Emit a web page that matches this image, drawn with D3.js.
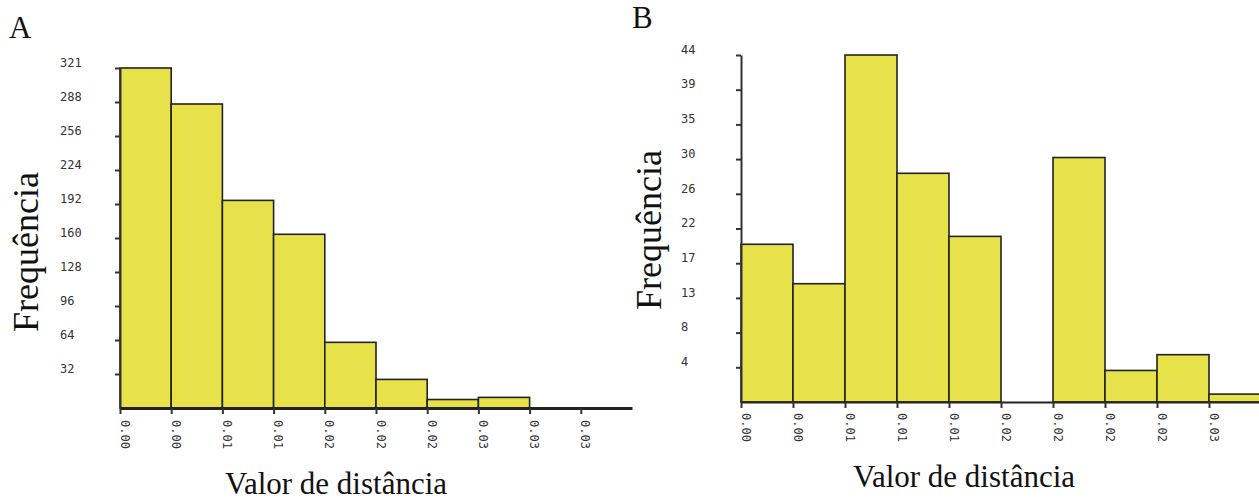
<!DOCTYPE html>
<html>
  <head>
    <meta charset="utf-8">
    <title>Frequência x Valor de distância</title>
    <script type="text/javascript" src="https://cdnjs.cloudflare.com/ajax/libs/d3/7.8.5/d3.min.js"></script>
    <style>
      body { margin: 0; background: #fff; }
      .tick text { font-family: "DejaVu Sans Mono", monospace; font-size: 12px; fill: #333; }
      .ttl { font-family: "Liberation Serif", "Times New Roman", serif; fill: #111; }
    </style>
  </head>
  <body>
  <script>

    // panel A
    var countsA = [321, 287, 196, 164, 62, 27, 8, 10];
    var yLabelsA = ['32', '64', '96', '128', '160', '192', '224', '256', '288', '321'];
    var xLabelsA = ['0.00', '0.00', '0.01', '0.01', '0.02', '0.02', '0.02', '0.03', '0.03', '0.03'];

    // panel B
    var countsB = [20, 15, 44, 29, 21, 0, 31, 4, 6, 1];
    var yLabelsB = ['4', '8', '13', '17', '22', '26', '30', '35', '39', '44'];
    var xLabelsB = ['0.00', '0.00', '0.01', '0.01', '0.01', '0.02', '0.02', '0.02', '0.02', '0.03'];

    var svg = d3.select('body')
              .append('svg')
              .attr('width', 1259)
              .attr('height', 501);

    function panel(cfg) {
      var maxCount = d3.max(cfg.counts);
      var x = d3.scaleLinear().domain([0, 10]).range([cfg.left, cfg.right]);
      var y = d3.scaleLinear().domain([0, maxCount]).range([cfg.bottom, cfg.top]);
      var g = svg.append('g');

      // bars, one per bin; an empty bin draws nothing
      g.selectAll('rect')
        .data(cfg.counts)
        .enter()
        .append('rect')
        .attr('x', function(d, i) { return x(i); })
        .attr('y', function(d) { return y(d); })
        .attr('width', function(d, i) { return x(i + 1) - x(i); })
        .attr('height', function(d) { return y(0) - y(d); })
        .attr('fill', '#e8e24a')
        .attr('stroke', '#222')
        .attr('stroke-width', 1.6)
        .style('display', function(d) { return d > 0 ? null : 'none'; });

      // y axis, ticks at tenths of the max
      var yAxis = d3.axisLeft(y)
        .tickValues(cfg.yLabels.map(function(d, i) { return maxCount * (i + 1) / 10; }))
        .tickFormat(function(d, i) { return cfg.yLabels[i]; })
        .tickSize(5)
        .tickSizeOuter(0);
      var ya = g.append('g')
        .attr('transform', 'translate(' + cfg.left + ',0)')
        .call(yAxis);
      ya.select('.domain').attr('stroke', '#333').attr('stroke-width', 2);
      ya.selectAll('.tick line').attr('stroke', '#333').attr('stroke-width', 2);
      ya.selectAll('.tick text')
        .attr('x', cfg.yLabelX - cfg.left)
        .attr('dy', '-0.15em')
        .attr('text-anchor', 'start');

      // x axis
      var xAxis = d3.axisBottom(x)
        .tickValues(d3.range(cfg.xLabels.length))
        .tickFormat(function(d, i) { return cfg.xLabels[i]; })
        .tickSize(6)
        .tickSizeOuter(0);
      var xa = g.append('g')
        .attr('transform', 'translate(0,' + cfg.bottom + ')')
        .call(xAxis);
      xa.select('.domain').attr('stroke', '#222').attr('stroke-width', cfg.baseWidth);
      xa.selectAll('.tick line').attr('stroke', '#333').attr('stroke-width', 2);
      xa.selectAll('.tick text')
        .attr('x', 0)
        .attr('y', 0)
        .attr('dy', 0)
        .attr('text-anchor', 'start')
        .attr('transform', 'translate(0,' + cfg.labelGap + ') rotate(90)');

      // titles
      svg.append('text').attr('class', 'ttl')
        .attr('x', cfg.letterX).attr('y', cfg.letterY)
        .style('font-size', '31px')
        .text(cfg.letter);
      svg.append('text').attr('class', 'ttl')
        .attr('transform', 'translate(' + cfg.yTitleX + ',' + cfg.yTitleY + ') rotate(-90)')
        .attr('text-anchor', 'middle')
        .style('font-size', '36px')
        .text('Frequência');
      svg.append('text').attr('class', 'ttl')
        .attr('x', cfg.xTitleX).attr('y', cfg.xTitleY)
        .attr('text-anchor', 'middle')
        .style('font-size', '31px')
        .text('Valor de distância');
    }

    panel({
      counts: countsA, yLabels: yLabelsA, xLabels: xLabelsA,
      left: 120, right: 632, top: 68, bottom: 408, yLabelX: 60,
      baseWidth: 3, labelGap: 12,
      letter: 'A', letterX: 9, letterY: 38,
      yTitleX: 38, yTitleY: 252, xTitleX: 336, xTitleY: 494
    });

    panel({
      counts: countsB, yLabels: yLabelsB, xLabels: xLabelsB,
      left: 741, right: 1261, top: 55, bottom: 402, yLabelX: 681,
      baseWidth: 2, labelGap: 11,
      letter: 'B', letterX: 632, letterY: 28,
      yTitleX: 661, yTitleY: 230, xTitleX: 964, xTitleY: 487
    });

  </script>
 </body>
</html>
